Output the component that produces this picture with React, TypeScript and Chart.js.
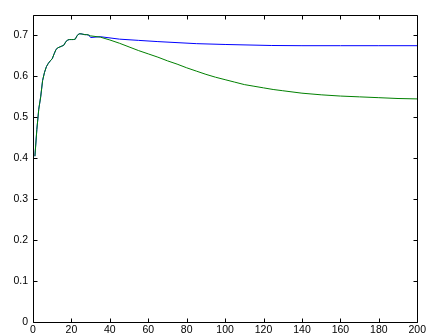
import React, { useEffect, useRef } from "react";
import { Chart, registerables } from "chart.js";

Chart.register(...registerables);

// Tick labels
const xTickValues = [0, 20, 40, 60, 80, 100, 120, 140, 160, 180, 200];
const yTickValues = [0, 0.1, 0.2, 0.3, 0.4, 0.5, 0.6, 0.7];

// Shared early part (iterations 1..29)
const earlyX = [1, 2, 3, 4, 5, 6, 7, 8, 9, 10, 11, 12, 13, 14, 15, 16, 17, 18, 19, 20, 21, 22, 23, 24, 25, 26, 27, 28, 29];
const earlyY = [0.405, 0.47, 0.52, 0.55, 0.59, 0.61, 0.624, 0.632, 0.638, 0.643, 0.655, 0.666, 0.67, 0.672, 0.674, 0.676, 0.684, 0.689, 0.69, 0.69, 0.69, 0.691, 0.7, 0.704, 0.704, 0.703, 0.702, 0.702, 0.701];

// Blue series after divergence
const blueX = [30, 35, 45, 55, 65, 85, 100, 124, 140, 160, 180, 200];
const blueY = [0.695, 0.697, 0.691, 0.688, 0.685, 0.68, 0.678, 0.6755, 0.675, 0.675, 0.675, 0.675];

// Green series after divergence
const greenX = [30, 35, 40, 45, 50, 55, 60, 65, 70, 75, 80, 85, 90, 95, 100, 105, 110, 115, 120, 125, 130, 140, 150, 160, 170, 180, 190, 200];
const greenY = [0.699, 0.696, 0.689, 0.681, 0.672, 0.663, 0.655, 0.647, 0.638, 0.63, 0.621, 0.613, 0.605, 0.598, 0.592, 0.586, 0.58, 0.576, 0.572, 0.568, 0.565, 0.559, 0.555, 0.552, 0.55, 0.548, 0.546, 0.545];

const toPoints = (xs: number[], ys: number[]) => xs.map((x, i) => ({ x, y: ys[i] }));

const boxPlugin = {
  id: "matlabBox",
  afterDatasetsDraw(chart: any) {
    const { ctx, chartArea } = chart;
    const xs = chart.scales.x;
    const ys = chart.scales.y;
    const l = Math.round(chartArea.left) + 0.5;
    const r = Math.round(chartArea.right) + 0.5;
    const t = Math.round(chartArea.top) + 0.5;
    const b = Math.round(chartArea.bottom) + 0.5;
    ctx.save();
    ctx.strokeStyle = "#000";
    ctx.lineWidth = 1;
    ctx.beginPath();
    ctx.rect(l, t, r - l, b - t);
    ctx.stroke();
    const tl = 4;
    ctx.beginPath();
    xTickValues.forEach((v) => {
      const px = Math.round(xs.getPixelForValue(v)) + 0.5;
      ctx.moveTo(px, b);
      ctx.lineTo(px, b - tl);
      ctx.moveTo(px, t);
      ctx.lineTo(px, t + tl);
    });
    yTickValues.forEach((v) => {
      const py = Math.round(ys.getPixelForValue(v)) + 0.5;
      ctx.moveTo(l, py);
      ctx.lineTo(l + tl, py);
      ctx.moveTo(r, py);
      ctx.lineTo(r - tl, py);
    });
    ctx.stroke();
    ctx.restore();
  },
};

export default function App() {
  const ref = useRef<HTMLCanvasElement | null>(null);

  useEffect(() => {
    if (!ref.current) return;
    const font = { family: "'Liberation Sans', Arial, Helvetica, sans-serif", size: 10.5 };
    const chart = new Chart(ref.current, {
      type: "line",
      data: {
        datasets: [
          {
            label: "green",
            data: toPoints([...earlyX, ...greenX], [...earlyY, ...greenY]),
            borderColor: "#008000",
            borderWidth: 1,
            pointRadius: 0,
            tension: 0,
            fill: false,
          },
          {
            label: "blue",
            data: toPoints([...earlyX, ...blueX], [...earlyY, ...blueY]),
            borderColor: "#0000ff",
            borderWidth: 1,
            pointRadius: 0,
            tension: 0,
            fill: false,
          },
        ],
      },
      options: {
        responsive: false,
        animation: false,
        layout: { padding: { top: 15, right: 8, left: 0, bottom: 0 } },
        plugins: { legend: { display: false }, tooltip: { enabled: false } },
        scales: {
          x: {
            type: "linear",
            min: 0,
            max: 200,
            offset: false,
            grid: { display: false, drawTicks: false },
            border: { display: false },
            afterBuildTicks: (scale: any) => {
              scale.ticks = xTickValues.map((v) => ({ value: v }));
            },
            afterFit: (scale: any) => {
              scale.height = 13;
            },
            ticks: {
              autoSkip: false,
              maxRotation: 0,
              padding: 2,
              color: "#000",
              font,
              callback: (v: any) => String(v),
            },
          },
          y: {
            type: "linear",
            min: 0,
            max: 0.75,
            grid: { display: false, drawTicks: false },
            border: { display: false },
            afterBuildTicks: (scale: any) => {
              scale.ticks = yTickValues.map((v) => ({ value: v }));
            },
            afterFit: (scale: any) => {
              scale.width = 33;
            },
            ticks: {
              padding: 5,
              color: "#000",
              font,
              callback: (v: any) => String(Math.round(v * 10) / 10),
            },
          },
        },
      },
      plugins: [boxPlugin],
    });
    return () => chart.destroy();
  }, []);

  return (
    <div style={{ position: "fixed", left: 0, top: 0, width: 428, height: 335, background: "#fff" }}>
      <canvas ref={ref} width={428} height={335} style={{ display: "block" }} />
    </div>
  );
}
